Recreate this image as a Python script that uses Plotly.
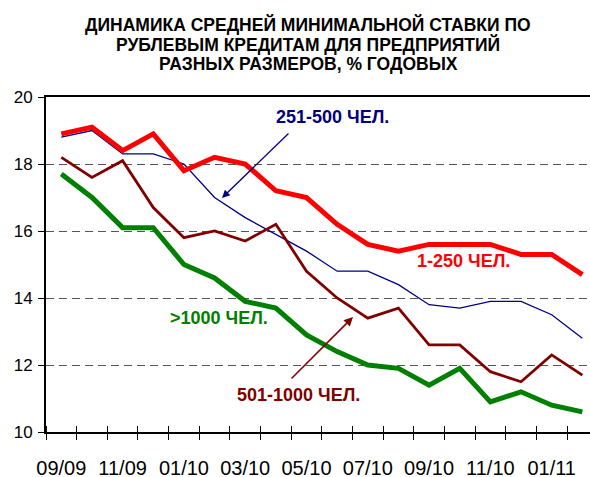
import plotly.graph_objects as go

months = ["09/09", "10/09", "11/09", "12/09", "01/10", "02/10", "03/10", "04/10", "05/10",
          "06/10", "07/10", "08/10", "09/10", "10/10", "11/10", "12/10", "01/11", "02/11"]
r_1_250 = [18.9, 19.1, 18.4, 18.9, 17.8, 18.2, 18.0, 17.2, 17.0,
           16.2, 15.6, 15.4, 15.6, 15.6, 15.6, 15.3, 15.3, 14.7]
r_251_500 = [18.8, 19.0, 18.3, 18.3, 18.0, 17.0, 16.4, 15.9, 15.4,
             14.8, 14.8, 14.4, 13.8, 13.7, 13.9, 13.9, 13.5, 12.8]
r_501_1000 = [18.2, 17.6, 18.1, 16.7, 15.8, 16.0, 15.7, 16.2, 14.8,
              14.0, 13.4, 13.7, 12.6, 12.6, 11.8, 11.5, 12.3, 11.7]
r_over_1000 = [17.7, 17.0, 16.1, 16.1, 15.0, 14.6, 13.9, 13.7, 12.9,
               12.4, 12.0, 11.9, 11.4, 11.9, 10.9, 11.2, 10.8, 10.6]
y_ticks = [10, 12, 14, 16, 18, 20]
title_lines = ["ДИНАМИКА СРЕДНЕЙ МИНИМАЛЬНОЙ СТАВКИ ПО",
               "РУБЛЕВЫМ КРЕДИТАМ ДЛЯ ПРЕДПРИЯТИЙ",
               "РАЗНЫХ РАЗМЕРОВ, % ГОДОВЫХ"]

idx = list(range(len(months)))
label_idx = idx[::2]
label_txt = [months[i] for i in label_idx]

W, H = 590, 477
L, R, T, B = 46, 0, 97, 45
XR = [-0.5, 17.25]

def px2x(px):
    return XR[0] + (px - L) / (W - L - R) * (XR[1] - XR[0])

def py2y(py):
    return 20 - (py - T) / (H - T - B) * 10

def py2paper(py):
    return (H - B - py) / (H - T - B)

fig = go.Figure()
fig.add_trace(go.Scatter(x=idx, y=r_251_500, mode="lines", line=dict(color="#000080", width=1.3),
                         name="251-500 ЧЕЛ."))
fig.add_trace(go.Scatter(x=idx, y=r_501_1000, mode="lines", line=dict(color="#800000", width=2.8),
                         name="501-1000 ЧЕЛ."))
fig.add_trace(go.Scatter(x=idx, y=r_over_1000, mode="lines", line=dict(color="#008000", width=5),
                         name=">1000 ЧЕЛ."))
fig.add_trace(go.Scatter(x=idx, y=r_1_250, mode="lines", line=dict(color="#FF0000", width=5),
                         name="1-250 ЧЕЛ."))

font_main = "Liberation Sans, Arial, sans-serif"
font_narrow = "Liberation Sans Narrow, Arial Narrow, Liberation Sans, sans-serif"

annotations = []
for i, (line, py) in enumerate(zip(title_lines, [24, 44, 64])):
    annotations.append(dict(text="<b>" + line + "</b>", xref="paper", yref="paper",
                            x=(308 - L) / (W - L - R), y=py2paper(py), xanchor="center", yanchor="middle",
                            showarrow=False, font=dict(family=font_main, size=17.5, color="black")))

labels = [("251-500 ЧЕЛ.", 332, 117, "#000080"),
          ("1-250 ЧЕЛ.", 463, 261, "#FF0000"),
          (">1000 ЧЕЛ.", 219, 318, "#008000"),
          ("501-1000 ЧЕЛ.", 298, 395, "#800000")]
for txt, px, py, col in labels:
    annotations.append(dict(text="<b>" + txt + "</b>", x=px2x(px), y=py2y(py), xref="x", yref="y",
                            showarrow=False, xanchor="center", yanchor="middle",
                            font=dict(family=font_main, size=18, color=col)))

arrows = [((222, 198), (290, 132), "#000080", 1.3),
          ((353, 317), (290, 380), "#800000", 1.5)]
for (hx, hy), (tx, ty), col, w in arrows:
    annotations.append(dict(text="", x=px2x(hx), y=py2y(hy), ax=px2x(tx), ay=py2y(ty),
                            xref="x", yref="y", axref="x", ayref="y", showarrow=True,
                            arrowhead=2, arrowsize=1.2, arrowwidth=w, arrowcolor=col, standoff=0))

fig.update_layout(
    width=W, height=H,
    margin=dict(l=L, r=R, t=T, b=B, autoexpand=False),
    paper_bgcolor="white", plot_bgcolor="white",
    showlegend=False,
    annotations=annotations,
    xaxis=dict(range=XR, tickvals=label_idx, ticktext=label_txt, ticks="", automargin=False,
               showgrid=False, zeroline=False, showline=True, linecolor="black", linewidth=1.5,
               mirror=True, ticklabelstandoff=17,
               tickfont=dict(family=font_narrow, size=20, color="black"),
               minor=dict(tick0=-0.5, dtick=1, ticks="outside", ticklen=6, tickcolor="black",
                          tickwidth=1, showgrid=False)),
    xaxis2=dict(range=XR, overlaying="x", anchor="y", side="bottom", showticklabels=False,
                ticks="", showgrid=False, zeroline=False, showline=False, automargin=False,
                tickvals=label_idx,
                minor=dict(tick0=-0.5, dtick=1, ticks="inside", ticklen=6, tickcolor="black",
                           tickwidth=1, showgrid=False)),
    yaxis=dict(range=[10, 20], tickvals=y_ticks, ticks="outside", ticklen=6, tickcolor="black",
               showline=True, linecolor="black", linewidth=2, zeroline=False, automargin=False,
               showgrid=True, gridcolor="#555555", griddash="8px,5px", gridwidth=1,
               ticklabelstandoff=2,
               tickfont=dict(family=font_main, size=17, color="black")),
)
fig.add_trace(go.Scatter(x=[idx[0]], y=[r_1_250[0]], xaxis="x2", yaxis="y", mode="markers",
                         marker=dict(opacity=0), hoverinfo="skip", showlegend=False))

fig.write_html("out.html", config={"displayModeBar": False},
               post_script="document.body.style.margin='0';document.body.style.overflow='hidden';")
